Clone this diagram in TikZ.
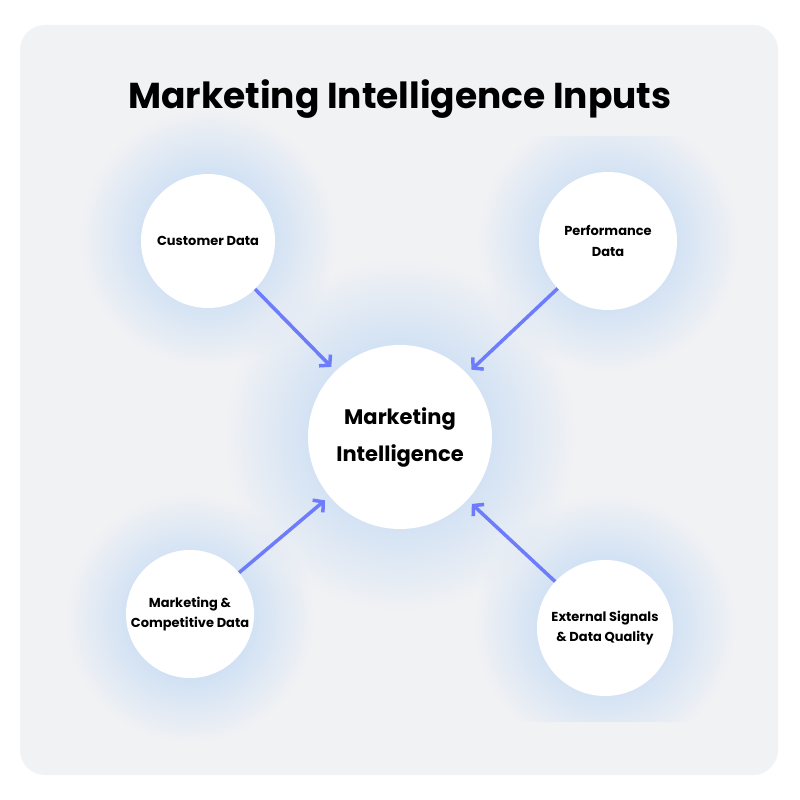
\documentclass[tikz,border=0pt]{standalone}
\usepackage{fontspec}
\setmainfont{Poppins}
\usetikzlibrary{arrows.meta,fadings}
\definecolor{panel}{HTML}{F1F2F4}
\definecolor{glow}{HTML}{B3D2F4}
\definecolor{arrowblue}{HTML}{6C7CFB}
\tikzfading[name=glowfade,inner color=transparent!0,outer color=transparent!100]

\begin{document}
\begin{tikzpicture}[x=1pt,y=-1pt,
  hub/.style={circle,fill=white,minimum size=#1,inner sep=0pt,align=center},
  small/.style={font=\bfseries\fontsize{13}{21}\selectfont},
  halo/.style={fill=glow,path fading=glowfade},
  feed/.style={draw=arrowblue,line width=3.5pt,-{Straight Barb[length=7pt,width=16pt]},shorten >=6pt}]
\useasboundingbox (0,0) rectangle (800,800);
\fill[white] (0,0) rectangle (800,800);
\fill[panel,rounded corners=25pt] (20,25) rectangle (778,775);
% soft glow behind the circles
\fill[halo] (400,435) circle (175);
\fill[halo] (208,238) circle (128);
\fill[halo] (190,618) circle (124);
\begin{scope}
\clip (450,136) rectangle (778,400);
\fill[halo] (608,241) circle (130);
\end{scope}
\begin{scope}
\clip (450,480) rectangle (778,721);
\fill[halo] (605,625) circle (130);
\end{scope}
\node[font=\bfseries\fontsize{36}{40}\selectfont] (title) at (400,99) {Marketing Intelligence Inputs};
\node[hub=184pt,font=\bfseries\fontsize{21}{37}\selectfont] (mi) at (400,437) {Marketing\\Intelligence};
\node[hub=134pt,small] (cust) at (208,241) {Customer Data};
\node[hub=138pt,small] (perf) at (608,241) {Performance\\Data};
\node[hub=128pt,small,font=\bfseries\fontsize{13}{20}\selectfont] (comp) at (190,614) {Marketing \&\\Competitive Data};
\node[hub=136pt,small,font=\bfseries\fontsize{13}{20}\selectfont] (ext) at (605,628) {External Signals\\\& Data Quality};
\draw[feed] (cust) -- (mi);
\draw[feed] (perf) -- (mi);
\draw[feed] (comp) -- (mi);
\draw[feed] (ext) -- (mi);
\end{tikzpicture}
\end{document}
